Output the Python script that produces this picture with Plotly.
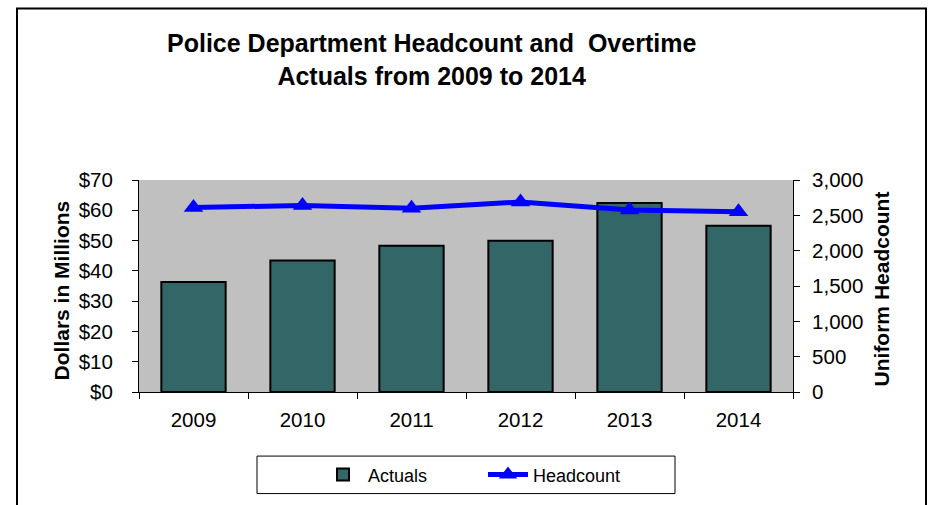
import plotly.graph_objects as go

years = ["2009", "2010", "2011", "2012", "2013", "2014"]
actuals = [36.3, 43.4, 48.3, 49.9, 62.4, 54.9]
headcount = [2610, 2640, 2600, 2690, 2575, 2550]

dollar_ticks = [0, 10, 20, 30, 40, 50, 60, 70]
dollar_labels = ["$" + str(v) for v in dollar_ticks]
hc_ticks = [0, 500, 1000, 1500, 2000, 2500, 3000]
hc_labels = ["{:,}".format(v) for v in hc_ticks]

L, R, T, B = 139, 141, 180, 110
PW, PH = 934 - L - R, 505 - T - B


def px(x):
    return (x - L) / PW


def py(y):
    return (505 - B - y) / PH


fig = go.Figure()
fig.add_trace(go.Bar(
    x=years, y=actuals, name="Actuals",
    marker=dict(color="#336666", line=dict(color="black", width=2)),
    yaxis="y",
))
fig.add_trace(go.Scatter(
    x=years, y=headcount, name="Headcount", mode="lines+markers",
    line=dict(color="#0000ff", width=5),
    marker=dict(symbol="triangle-up", size=17, color="#0000ff"),
    yaxis="y2",
))

font = "Liberation Sans, Arial, sans-serif"
fig.update_layout(
    width=934, height=505,
    margin=dict(l=L, r=R, t=T, b=B),
    paper_bgcolor="white", plot_bgcolor="#c0c0c0",
    font=dict(family=font, size=18, color="black"),
    bargap=0.41,
    showlegend=True,
    legend=dict(orientation="h", x=px(318), xanchor="left", y=py(479), yanchor="middle",
                bgcolor="rgba(0,0,0,0)", font=dict(size=18), itemwidth=40,
                entrywidth=110, traceorder="normal"),
    xaxis=dict(type="category", showgrid=False, showline=True, linecolor="black", linewidth=1,
               ticks="outside", ticklen=6, tickcolor="black", tickson="boundaries",
               tickfont=dict(size=20.5), ticklabelstandoff=9, mirror=False),
    yaxis=dict(range=[0, 70], tickvals=dollar_ticks, ticktext=dollar_labels, showgrid=False,
               showline=True, linecolor="black", linewidth=1, ticks="outside", ticklen=6,
               tickcolor="black", tickfont=dict(size=20.5), ticklabelstandoff=15, zeroline=False),
    yaxis2=dict(range=[0, 3000], tickvals=hc_ticks, ticktext=hc_labels, overlaying="y",
                side="right", showgrid=False, showline=True, linecolor="black", linewidth=1,
                ticks="outside", ticklen=6, tickcolor="black", tickfont=dict(size=20.5),
                ticklabelstandoff=8, zeroline=False),
    shapes=[
        dict(type="rect", xref="paper", yref="paper", x0=px(17), x1=px(926), y0=py(540), y1=py(6),
             line=dict(color="black", width=2), fillcolor="rgba(0,0,0,0)", layer="below"),
        dict(type="rect", xref="paper", yref="paper", x0=px(257), x1=px(675), y0=py(498), y1=py(460),
             line=dict(color="black", width=1), fillcolor="rgba(0,0,0,0)"),
    ],
    annotations=[
        dict(text="<b>Police Department Headcount and  Overtime<br>Actuals from 2009 to 2014</b>",
             xref="paper", yref="paper", x=px(431), y=py(58), xanchor="center", yanchor="middle",
             showarrow=False, font=dict(size=25), align="center"),
        dict(text="<b>Dollars in Millions</b>", xref="paper", yref="paper", x=px(61), y=py(292),
             xanchor="center", yanchor="middle", textangle=-90, showarrow=False, font=dict(size=21)),
        dict(text="<b>Uniform Headcount</b>", xref="paper", yref="paper", x=px(881), y=py(291),
             xanchor="center", yanchor="middle", textangle=-90, showarrow=False, font=dict(size=21)),
    ],
)

fig.write_html("out.html", config={"displayModeBar": False},
               post_script="document.body.style.margin='0';document.body.style.overflow='hidden';")
